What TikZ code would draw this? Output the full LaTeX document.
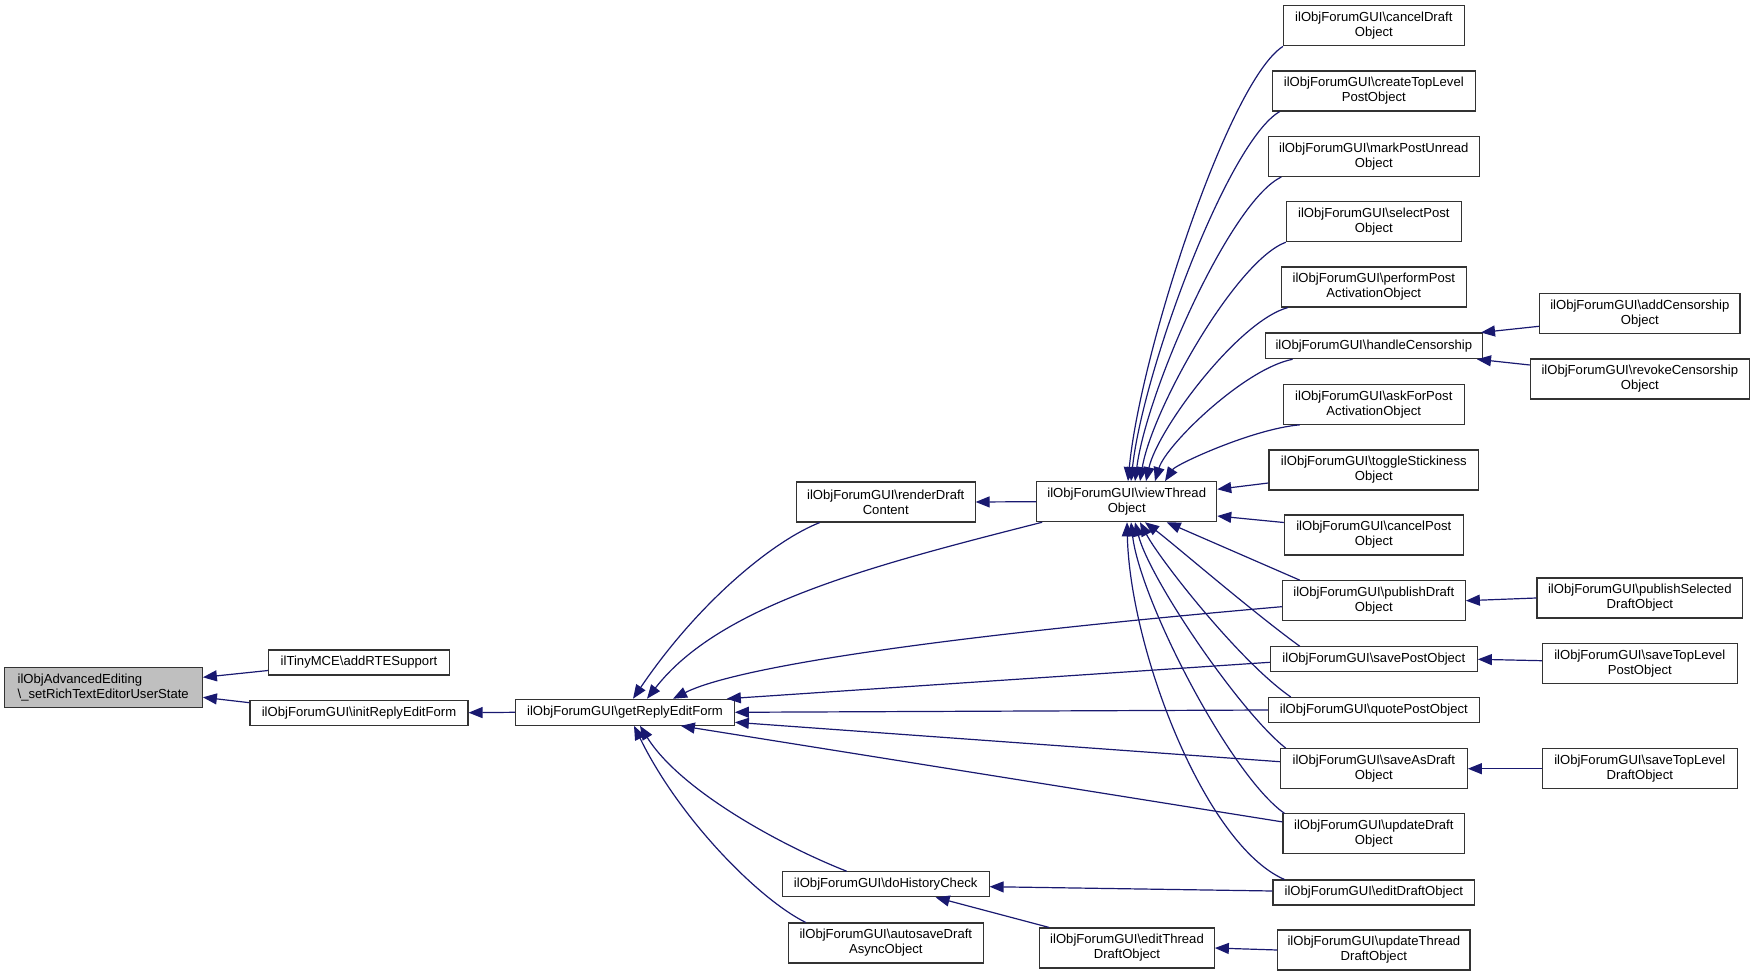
\documentclass[tikz,border=0pt]{standalone}
\usepackage{fontspec}
\setmainfont{Liberation Sans}
\usetikzlibrary{arrows.meta,calc}
\definecolor{edgeblue}{HTML}{191970}
\definecolor{boxline}{HTML}{333333}
\definecolor{rootfill}{HTML}{BFBFBF}
\tikzset{
  box/.style={draw=boxline, line width=0.55pt, fill=white, rectangle, inner sep=0pt,
    font=\fontsize{6.55}{7.5}\selectfont, align=center, minimum height=20pt},
  onebox/.style={box, minimum height=12.5pt},
  edge/.style={draw=edgeblue, line width=0.6pt, -{Triangle[length=7pt,width=5.5pt]}}
}
\newcommand{\bs}{\textbackslash}
\begin{document}
\begin{tikzpicture}[x=0.5pt,y=-0.5pt]
\useasboundingbox (0,0) rectangle (1755,977);
% column 0-2
\node[box, fill=rootfill, align=left, minimum width=99.15pt] (root) at (103.2,687.3) {ilObjAdvancedEditing\\\bs\_setRichTextEditorUserState};
\node[onebox, minimum width=90.3pt] (addrte) at (359,662.5) {ilTinyMCE\bs addRTESupport};
\node[onebox, minimum width=109pt] (initrep) at (359,712.7) {ilObjForumGUI\bs initReplyEditForm};
\node[onebox, minimum width=109.3pt, minimum height=13pt] (getrep) at (625,712.3) {ilObjForumGUI\bs getReplyEditForm};
\node[box, minimum width=89.35pt] (render) at (885.7,502) {ilObjForumGUI\bs renderDraft\\Content};
\node[onebox, minimum width=103.35pt] (dohist) at (885.7,884.3) {ilObjForumGUI\bs doHistoryCheck};
\node[box, minimum width=97.5pt] (autosave) at (885.8,943) {ilObjForumGUI\bs autosaveDraft\\AsyncObject};
\node[box, minimum width=90pt] (view) at (1126.7,501.7) {ilObjForumGUI\bs viewThread\\Object};
\node[box, minimum width=87.3pt] (editthr) at (1127,948) {ilObjForumGUI\bs editThread\\DraftObject};
% column 3
\node[box, minimum width=90.35pt] (canceldraft) at (1373.8,25.9) {ilObjForumGUI\bs cancelDraft\\Object};
\node[box, minimum width=101.5pt] (createtop) at (1373.8,91) {ilObjForumGUI\bs createTopLevel\\PostObject};
\node[box, minimum width=105.5pt] (markunread) at (1373.8,156.5) {ilObjForumGUI\bs markPostUnread\\Object};
\node[box, minimum width=87.5pt] (selectpost) at (1373.8,221.7) {ilObjForumGUI\bs selectPost\\Object};
\node[box, minimum width=92.35pt] (performpost) at (1373.8,287) {ilObjForumGUI\bs performPost\\ActivationObject};
\node[onebox, minimum width=108.65pt, minimum height=12.85pt] (handlecens) at (1373.8,345.9) {ilObjForumGUI\bs handleCensorship};
\node[box, minimum width=90.5pt] (askfor) at (1373.8,404.3) {ilObjForumGUI\bs askForPost\\ActivationObject};
\node[box, minimum width=104.85pt] (toggle) at (1373.8,470) {ilObjForumGUI\bs toggleStickiness\\Object};
\node[box, minimum width=89.5pt] (cancelpost) at (1373.8,535) {ilObjForumGUI\bs cancelPost\\Object};
\node[box, minimum width=91.5pt] (publishdraft) at (1373.8,600.7) {ilObjForumGUI\bs publishDraft\\Object};
\node[onebox, minimum width=103.5pt] (savepost) at (1373.8,659.3) {ilObjForumGUI\bs savePostObject};
\node[onebox, minimum width=105.5pt] (quotepost) at (1373.8,710) {ilObjForumGUI\bs quotePostObject};
\node[box, minimum width=93.5pt] (saveasdraft) at (1373.8,768.7) {ilObjForumGUI\bs saveAsDraft\\Object};
\node[box, minimum width=90.85pt] (updatedraft) at (1373.8,833.9) {ilObjForumGUI\bs updateDraft\\Object};
\node[onebox, minimum width=100.85pt] (editdraft) at (1373.8,892.5) {ilObjForumGUI\bs editDraftObject};
\node[box, minimum width=96.15pt] (updatethr) at (1373.8,950) {ilObjForumGUI\bs updateThread\\DraftObject};
% column 4
\node[box, minimum width=100.15pt] (addcens) at (1639.8,313.7) {ilObjForumGUI\bs addCensorship\\Object};
\node[box, minimum width=109.5pt] (revokecens) at (1639.8,379) {ilObjForumGUI\bs revokeCensorship\\Object};
\node[box, minimum width=102.85pt] (pubsel) at (1639.8,598) {ilObjForumGUI\bs publishSelected\\DraftObject};
\node[box, minimum width=97.5pt] (savetoppost) at (1639.8,663.3) {ilObjForumGUI\bs saveTopLevel\\PostObject};
\node[box, minimum width=97.5pt] (savetopdraft) at (1639.8,768.7) {ilObjForumGUI\bs saveTopLevel\\DraftObject};

% edges into root
\draw[edge] ($(addrte.west)+(0,8)$) -- ($(root.east)+(0,-10)$);
\draw[edge] ($(initrep.west)+(0,-10)$) -- ($(root.east)+(0,10)$);
\draw[edge] (getrep.west) -- (initrep.east);
% edges into getReplyEditForm
\draw[edge] ($(render.south west)+(24,0)$) .. controls (775,540) and (700,600) .. ($(getrep.north)+(8,0)$);
\draw[edge] ($(view.south west)+(6,0)$) .. controls (870,566) and (720,605) .. ($(getrep.north)+(22,0)$);
\draw[edge] ($(publishdraft.west)+(0,6)$) .. controls (900,640) and (730,670) .. ($(getrep.north)+(48,0)$);
\draw[edge] ($(savepost.west)+(0,3)$) -- ($(getrep.north east)+(-8,0)$);
\draw[edge] (quotepost.west) -- (getrep.east);
\draw[edge] ($(saveasdraft.west)+(0,-7)$) -- ($(getrep.east)+(0,10)$);
\draw[edge] ($(updatedraft.west)+(0,-12)$) -- ($(getrep.south east)+(-54,0)$);
\draw[edge] ($(dohist.north)+(-39,0)$) .. controls (780,845) and (680,790) .. ($(getrep.south)+(15,0)$);
\draw[edge] ($(autosave.north west)+(18,0)$) .. controls (760,900) and (680,820) .. ($(getrep.south)+(9,0)$);
% renderDraftContent
\draw[edge] (view.west) -- (render.east);
% edges into viewThreadObject (from above)
\draw[edge] (canceldraft.south west) .. controls (1229,80.8) and (1140.4,351) .. ($(view.north)+(1.3,0)$);
\draw[edge] ($(createtop.south west)+(8,0)$) .. controls (1227.9,141.3) and (1142.9,370.7) .. ($(view.north)+(4.3,0)$);
\draw[edge] ($(markunread.south west)+(13.5,0)$) .. controls (1230.6,201.1) and (1146.8,390.2) .. ($(view.north)+(8.3,0)$);
\draw[edge] (selectpost.south west) .. controls (1235.6,260.9) and (1151.8,409.7) .. ($(view.north)+(13.3,0)$);
\draw[edge] ($(performpost.south west)+(7,0)$) .. controls (1238.3,321) and (1157.4,429.3) .. ($(view.north)+(19.3,0)$);
\draw[edge] ($(handlecens.south west)+(28,0)$) .. controls (1244.7,368.5) and (1166,444.8) .. ($(view.north)+(28.3,0)$);
\draw[edge] ($(askfor.south west)+(17,0)$) .. controls (1252.75,428.9) and (1175.8,464.5) .. ($(view.north)+(38.3,0)$);
% from the side
\draw[edge] ($(toggle.west)+(0,13)$) -- ($(view.east)+(0,-12.4)$);
\draw[edge] ($(cancelpost.west)+(0,-12.5)$) -- ($(view.east)+(0,14.3)$);
% from below
\draw[edge] ($(publishdraft.north west)+(18,0)$) -- ($(view.south)+(40,0)$);
\draw[edge] ($(savepost.north west)+(30,0)$) .. controls (1250,610) and (1175,545) .. ($(view.south)+(18.3,0)$);
\draw[edge] ($(quotepost.north west)+(23,0)$) .. controls (1240,662) and (1160,560) .. ($(view.south)+(13.3,0)$);
\draw[edge] ($(saveasdraft.north west)+(6,0)$) .. controls (1240,712) and (1150,580) .. ($(view.south)+(8.3,0)$);
\draw[edge] ($(updatedraft.north west)+(2,0)$) .. controls (1230,775) and (1140,600) .. ($(view.south)+(4.3,0)$);
\draw[edge] ($(editdraft.north west)+(12,0)$) .. controls (1205,845) and (1130,650) .. ($(view.south)+(0.3,0)$);
% column 4 to column 3
\draw[edge] ($(addcens.west)+(0,12.6)$) -- ($(handlecens.north east)+(-2,0)$);
\draw[edge] ($(revokecens.west)+(0,-14)$) -- ($(handlecens.south east)+(-6,0)$);
\draw[edge] (pubsel.west) -- (publishdraft.east);
\draw[edge] ($(savetoppost.west)+(0,-2.6)$) -- (savepost.east);
\draw[edge] (savetopdraft.west) -- (saveasdraft.east);
% lower part
\draw[edge] (updatethr.west) -- (editthr.east);
\draw[edge] ($(editdraft.west)+(0,-1.5)$) -- ($(dohist.east)+(0,2.4)$);
\draw[edge] ($(editthr.north west)+(10,0)$) -- ($(dohist.south east)+(-54,0)$);
\end{tikzpicture}
\end{document}
